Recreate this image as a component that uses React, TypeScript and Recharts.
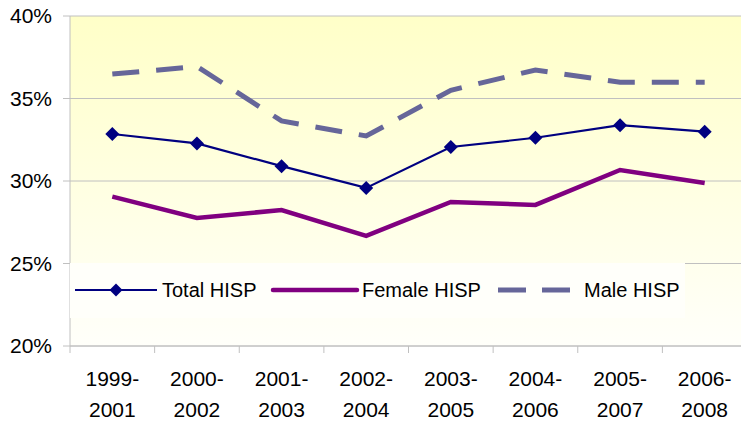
import React from 'react';
import { LineChart, Line, XAxis, YAxis, CartesianGrid, Legend } from 'recharts';

// 3-year periods and HISP rates (%)
const periods = ['1999-2001', '2000-2002', '2001-2003', '2002-2004', '2003-2005', '2004-2006', '2005-2007', '2006-2008'];
const totalHisp = [32.85, 32.28, 30.9, 29.58, 32.06, 32.62, 33.38, 32.99];
const femaleHisp = [29.05, 27.76, 28.24, 26.67, 28.73, 28.55, 30.67, 29.88];
const maleHisp = [36.48, 36.94, 33.64, 32.73, 35.5, 36.73, 35.98, 35.98];
const yTicks = [20, 25, 30, 35, 40];
const seriesNames = ['Total HISP', 'Female HISP', 'Male HISP'];

const data = periods.map((period, i) => ({
  period,
  total: totalHisp[i],
  female: femaleHisp[i],
  male: maleHisp[i],
}));

const CHART_W = 747; // the original is cropped a few px on the right
const CHART_H = 427;
const Y_W = 70;
const HALF_BAND = (CHART_W - Y_W) / periods.length / 2;

const NAVY = '#000080';
const PURPLE = '#800080';
const SLATE = '#666699';
const GRID = '#C0C0C0';

function diamondAt(cx: number, cy: number, r: number) {
  return (
    <polygon
      points={`${cx},${cy - r} ${cx + r},${cy} ${cx},${cy + r} ${cx - r},${cy}`}
      fill={NAVY}
    />
  );
}

// recharts passes its own r, so the size is fixed here
function Diamond(props: any) {
  const { cx, cy } = props;
  if (cx == null || cy == null) return null;
  return diamondAt(cx, cy, 7);
}

function PeriodTick(props: any) {
  const { x, y, payload } = props;
  const [from, to] = String(payload.value).split('-');
  return (
    <g>
      <line x1={x - HALF_BAND} x2={x - HALF_BAND} y1={y} y2={y + 7} stroke={GRID} />
      <text x={x} y={y} textAnchor="middle" fontSize={21} fill="#000">
        <tspan x={x} dy={40}>{from}-</tspan>
        <tspan x={x} dy={31}>{to}</tspan>
      </text>
    </g>
  );
}

function HispLegend() {
  const cy = 27;
  return (
    <svg width={615} height={55} style={{ display: 'block' }}>
      <rect x={0} y={0} width={615} height={55} fill="#FFFFFA" />
      <line x1={5} x2={87} y1={cy} y2={cy} stroke={NAVY} strokeWidth={2.2} />
      {diamondAt(46, cy, 6.5)}
      <text x={92} y={cy} dominantBaseline="central" fontSize={20} fill="#000">{seriesNames[0]}</text>
      <line x1={203} x2={287} y1={cy} y2={cy} stroke={PURPLE} strokeWidth={4.5} strokeLinecap="round" />
      <text x={292} y={cy} dominantBaseline="central" fontSize={20} fill="#000">{seriesNames[1]}</text>
      <line x1={428} x2={500} y1={cy} y2={cy} stroke={SLATE} strokeWidth={5} strokeDasharray="28 16" />
      <text x={514} y={cy} dominantBaseline="central" fontSize={20} fill="#000">{seriesNames[2]}</text>
    </svg>
  );
}

export default function App() {
  return (
    <div
      style={{
        position: 'absolute',
        left: 0,
        top: 0,
        width: 741,
        height: CHART_H,
        overflow: 'hidden',
        background: '#fff',
        fontFamily: '"Liberation Sans", Arial, sans-serif',
      }}
    >
      <LineChart width={CHART_W} height={CHART_H} data={data} margin={{ top: 16, right: 0, bottom: 0, left: 0 }}>
        <defs>
          <linearGradient id="plotBg" x1="0" y1="0" x2="0" y2="1">
            <stop offset="0%" stopColor="#FFFFC8" />
            <stop offset="100%" stopColor="#FFFFFA" />
          </linearGradient>
        </defs>
        <CartesianGrid vertical={false} stroke={GRID} fill="url(#plotBg)" fillOpacity={1} />
        <XAxis
          dataKey="period"
          height={81}
          padding={{ left: HALF_BAND, right: HALF_BAND }}
          tick={<PeriodTick />}
          tickLine={false}
          tickSize={0}
          tickMargin={0}
          interval={0}
          stroke={GRID}
        />
        <YAxis
          width={Y_W}
          domain={[20, 40]}
          ticks={yTicks}
          tickFormatter={(v: number) => `${v}%`}
          tick={{ fontSize: 21, fill: '#000' }}
          tickSize={7}
          tickMargin={11}
          stroke={GRID}
          interval={0}
        />
        <Legend
          layout="horizontal"
          verticalAlign="middle"
          align="center"
          wrapperStyle={{ position: 'absolute', left: 70, top: 263, width: 615, height: 55 }}
          content={<HispLegend />}
        />
        <Line
          dataKey="male"
          name={seriesNames[2]}
          stroke={SLATE}
          strokeWidth={5}
          strokeDasharray="27 17"
          dot={false}
          activeDot={false}
          isAnimationActive={false}
        />
        <Line
          dataKey="female"
          name={seriesNames[1]}
          stroke={PURPLE}
          strokeWidth={4.5}
          dot={false}
          activeDot={false}
          isAnimationActive={false}
        />
        <Line
          dataKey="total"
          name={seriesNames[0]}
          stroke={NAVY}
          strokeWidth={2.2}
          dot={<Diamond />}
          activeDot={false}
          isAnimationActive={false}
        />
      </LineChart>
    </div>
  );
}
